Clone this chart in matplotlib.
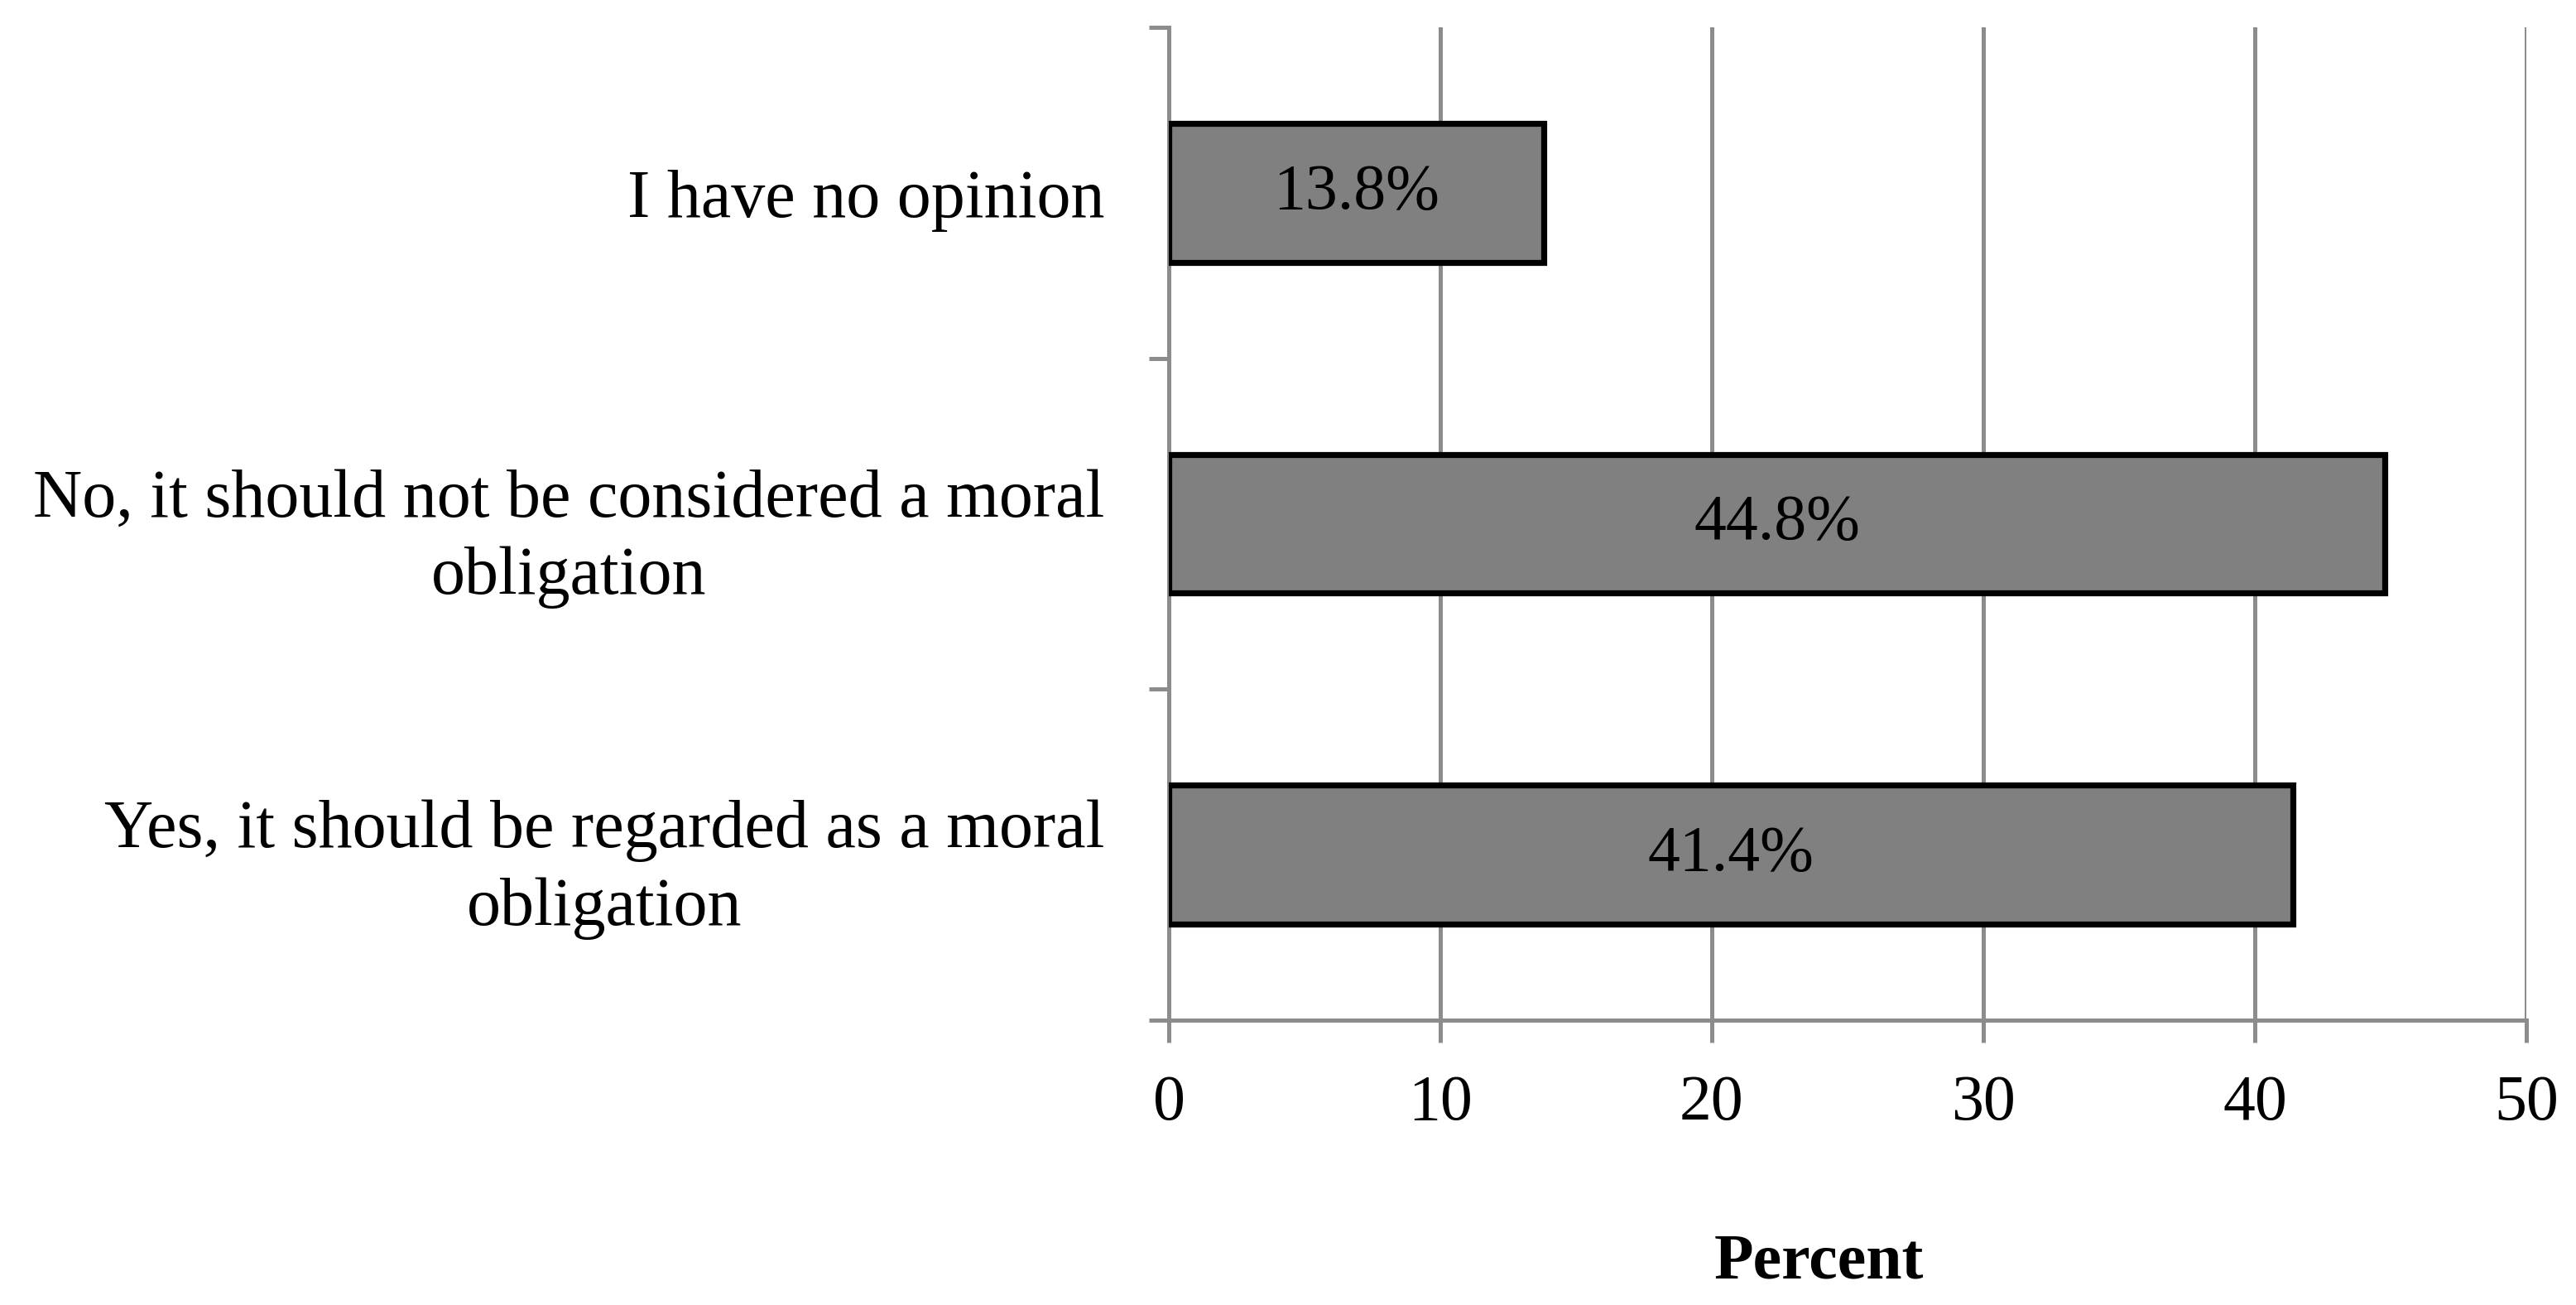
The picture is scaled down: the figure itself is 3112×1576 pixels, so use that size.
import matplotlib
matplotlib.use("Agg")
import matplotlib.pyplot as plt
import numpy as np

categories = [
    "Yes, it should be regarded as a moral\nobligation",
    "No, it should not be considered a moral\nobligation",
    "I have no opinion",
]
values = [41.4, 44.8, 13.8]
value_labels = ["41.4%", "44.8%", "13.8%"]
xticks = [0, 10, 20, 30, 40, 50]
xlabel = "Percent"

plt.rcParams['font.family'] = ['Liberation Serif', 'DejaVu Serif']

W, H = 3112, 1576
dpi = 200
fig = plt.figure(figsize=(W / dpi, H / dpi), dpi=dpi)
ax = fig.add_axes([1412 / W, 1 - 1232 / H, (3052 - 1412) / W, (1232 - 33) / H])

grid_c = "#8c8c8c"
fs = 28

y = np.arange(len(categories))
bars = ax.barh(y, values, height=0.42, color="#808080", edgecolor="black",
               linewidth=2.6, zorder=3)
for b, lab in zip(bars, value_labels):
    ax.text(b.get_x() + b.get_width() / 2, b.get_y() + b.get_height() / 2, lab,
            ha="center", va="center", fontsize=fs, color="black", zorder=4)

ax.set_xlim(0, 50)
ax.set_ylim(-0.5, len(categories) - 0.5)
ax.set_xticks(xticks)
ax.set_xticklabels([str(t) for t in xticks], fontsize=fs)
ax.tick_params(axis="x", length=9.7, width=1.8, color=grid_c, pad=14)

ax.set_yticks(np.arange(-0.5, len(categories), 1.0))
ax.set_yticklabels([])
ax.tick_params(axis="y", which="major", length=8.6, width=1.8, color=grid_c)
ax.set_yticks(y, minor=True)
ax.set_yticklabels(categories, minor=True, fontsize=29.5)
ax.tick_params(axis="y", which="minor", length=0, pad=28)
for t in ax.get_yticklabels(minor=True):
    t.set_multialignment("center")
    t.set_linespacing(1.32)

ax.xaxis.grid(True, color=grid_c, linewidth=1.8, zorder=0)
ax.set_axisbelow(True)
for s in ["top", "right"]:
    ax.spines[s].set_visible(False)
for s in ["left", "bottom"]:
    ax.spines[s].set_color(grid_c)
    ax.spines[s].set_linewidth(1.8)

fig.text(2197 / W, 1 - 1544 / H, xlabel, ha="center", va="baseline",
         fontsize=fs, fontweight="bold")

fig.savefig("out.png", dpi=dpi, facecolor="white")
